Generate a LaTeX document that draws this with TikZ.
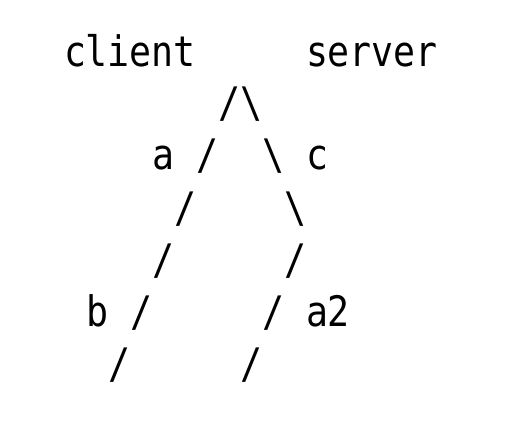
\documentclass[tikz,border=0pt]{standalone}
\usepackage{fontspec}
\newfontfamily\asciifont[FakeStretch=0.87]{DejaVu Sans Mono}
\begin{document}
\begin{tikzpicture}[x=1pt,y=1pt,
  glyph/.style={anchor=base west,inner sep=0pt,outer sep=0pt,font=\asciifont\fontsize{42}{42}\selectfont,text=black}]
\useasboundingbox (0,0) rectangle (512,432);
% col c -> x = 64 + 22c ; baseline rows
\def\rA{365.3}\def\rB{314}\def\rC{262.5}\def\rD{209.7}\def\rE{157.7}\def\rF{106}\def\rG{53.7}
\node[glyph] (client) at (64,\rA) {client};
\node[glyph] (server) at (306,\rA) {server};
\node[glyph] (top1) at (218,\rB) {/};
\node[glyph] (top2) at (240,\rB) {\textbackslash};
\node[glyph] (la) at (152,\rC) {a};
\node[glyph] (l1) at (196,\rC) {/};
\node[glyph] (r1) at (262,\rC) {\textbackslash};
\node[glyph] (lc) at (306,\rC) {c};
\node[glyph] (l2) at (174,\rD) {/};
\node[glyph] (r2) at (284,\rD) {\textbackslash};
\node[glyph] (l3) at (152,\rE) {/};
\node[glyph] (r3) at (284,\rE) {/};
\node[glyph] (lb) at (86,\rF) {b};
\node[glyph] (l4) at (130,\rF) {/};
\node[glyph] (r4) at (262,\rF) {/};
\node[glyph] (la2) at (306,\rF) {a2};
\node[glyph] (l5) at (108,\rG) {/};
\node[glyph] (r5) at (240,\rG) {/};
\end{tikzpicture}
\end{document}
